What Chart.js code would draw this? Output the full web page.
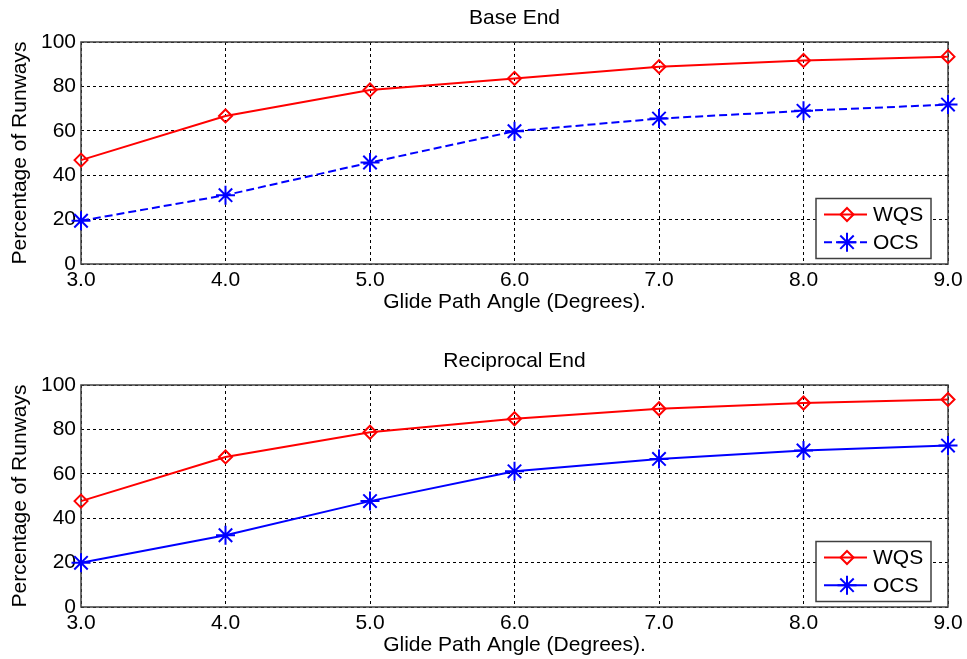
<!DOCTYPE html>
<html lang="en">
<head>
<meta charset="UTF-8">
<title>Glide Path Angle</title>
<script src="https://cdn.jsdelivr.net/npm/chart.js"></script>
<style>
  body { margin: 0; background: #fff; }
  canvas { position: absolute; left: 0; }
  #baseChart { top: 0; }
  #recipChart { top: 343px; }
</style>
</head>
<body>
<canvas id="baseChart" width="967" height="316"></canvas>
<canvas id="recipChart" width="967" height="316"></canvas>
<script>
// glide path angles (x categories)
const angles = ['3.0', '4.0', '5.0', '6.0', '7.0', '8.0', '9.0'];
const pctTicks = [0, 20, 40, 60, 80, 100];

// base end
const baseWqs = [46.8, 66.7, 78.4, 83.6, 88.9, 91.7, 93.4];
const baseOcs = [19.5, 31.0, 45.7, 59.8, 65.5, 69.0, 71.8];

// reciprocal end
const recipWqs = [47.7, 67.6, 78.7, 84.8, 89.3, 91.9, 93.5];
const recipOcs = [19.9, 32.3, 47.7, 61.1, 66.7, 70.5, 72.7];

const FONT = "21px 'Liberation Sans', Arial, sans-serif";
Chart.defaults.font.family = "'Liberation Sans', Arial, sans-serif";
Chart.defaults.font.size = 21;
Chart.defaults.color = '#000';

// solid box around the plot area, drawn over the dotted grid
const framePlugin = {
  id: 'frame',
  beforeDatasetsDraw(chart) {
    const a = chart.chartArea, ctx = chart.ctx;
    ctx.save();
    ctx.strokeStyle = '#404040';
    ctx.lineWidth = 1.5;
    ctx.strokeRect(a.left, a.top, a.right - a.left, a.bottom - a.top);
    ctx.restore();
  }
};

// title centred over the plot area
const plotTitle = {
  id: 'plotTitle',
  afterDraw(chart, args, opts) {
    const a = chart.chartArea, ctx = chart.ctx;
    ctx.save();
    ctx.fillStyle = '#000';
    ctx.font = FONT;
    ctx.textAlign = 'center';
    ctx.textBaseline = 'middle';
    ctx.fillText(opts.text, (a.left + a.right) / 2, 18);
    ctx.restore();
  }
};

function drawMarker(ctx, style, x, y, r) {
  ctx.beginPath();
  if (style === 'rectRot') {
    ctx.moveTo(x, y - r);
    ctx.lineTo(x + r, y);
    ctx.lineTo(x, y + r);
    ctx.lineTo(x - r, y);
    ctx.closePath();
  } else {
    for (let k = 0; k < 4; k++) {
      const t = k * Math.PI / 4;
      ctx.moveTo(x - Math.cos(t) * r, y - Math.sin(t) * r);
      ctx.lineTo(x + Math.cos(t) * r, y + Math.sin(t) * r);
    }
  }
  ctx.stroke();
}

// boxed legend in the lower right corner of the plot
const legendBox = {
  id: 'legendBox',
  afterDraw(chart) {
    const a = chart.chartArea, ctx = chart.ctx;
    const w = 115, h = 60;
    const bx = a.right - 17 - w, by = a.bottom - 5.5 - h;
    ctx.save();
    ctx.fillStyle = '#fff';
    ctx.fillRect(bx, by, w, h);
    ctx.strokeStyle = '#404040';
    ctx.lineWidth = 1.5;
    ctx.strokeRect(bx, by, w, h);
    chart.data.datasets.forEach((ds, i) => {
      const y = by + 16 + i * 27.7;
      ctx.strokeStyle = ds.borderColor;
      ctx.lineWidth = 2;
      ctx.setLineDash(ds.borderDash || []);
      ctx.beginPath();
      ctx.moveTo(bx + 8, y);
      ctx.lineTo(bx + 51, y);
      ctx.stroke();
      ctx.setLineDash([]);
      drawMarker(ctx, ds.pointStyle, bx + 31, y, ds.pointRadius);
      ctx.fillStyle = '#000';
      ctx.font = FONT;
      ctx.textBaseline = 'middle';
      ctx.fillText(ds.label, bx + 57, y + 1);
    });
    ctx.restore();
  }
};

function makeChart(id, title, wqs, ocs, ocsDash) {
  return new Chart(document.getElementById(id), {
    type: 'line',
    data: {
      labels: angles,
      datasets: [
        {
          label: 'WQS', data: wqs,
          borderColor: '#ff0000', backgroundColor: 'transparent', borderWidth: 2,
          pointStyle: 'rectRot', pointRadius: 6.5, pointBorderWidth: 2,
          pointBorderColor: '#ff0000', pointBackgroundColor: 'transparent',
          tension: 0, clip: false
        },
        {
          label: 'OCS', data: ocs,
          borderColor: '#0000ff', backgroundColor: 'transparent', borderWidth: 2, borderDash: ocsDash,
          pointStyle: 'star', pointRadius: 9.5, pointBorderWidth: 2,
          pointBorderColor: '#0000ff', pointBackgroundColor: 'transparent',
          tension: 0, clip: false
        }
      ]
    },
    options: {
      responsive: false,
      animation: false,
      devicePixelRatio: 1,
      layout: { padding: { left: 0, right: 19, top: 42, bottom: 0 } },
      plugins: {
        legend: { display: false },
        tooltip: { enabled: false },
        plotTitle: { text: title }
      },
      scales: {
        x: {
          offset: false,
          grid: { color: '#000', lineWidth: 1, drawTicks: false },
          border: { display: false, dash: [3, 3] },
          ticks: { padding: 4, maxRotation: 0, autoSkip: false },
          title: { display: true, text: 'Glide Path Angle (Degrees).', padding: { top: 0, bottom: 1 } },
          afterFit: s => { s.height = 52; }
        },
        y: {
          min: 0, max: 100,
          afterBuildTicks: s => { s.ticks = pctTicks.map(v => ({ value: v })); },
          grid: { color: '#000', lineWidth: 1, drawTicks: false },
          border: { display: false, dash: [3, 3] },
          ticks: { padding: 5 },
          title: { display: true, text: 'Percentage of Runways', padding: { top: 8, bottom: 0 } },
          afterFit: s => { s.width = 81; }
        }
      }
    },
    plugins: [framePlugin, plotTitle, legendBox]
  });
}

makeChart('baseChart', 'Base End', baseWqs, baseOcs, [8, 4]);
makeChart('recipChart', 'Reciprocal End', recipWqs, recipOcs, []);
</script>
</body>
</html>
